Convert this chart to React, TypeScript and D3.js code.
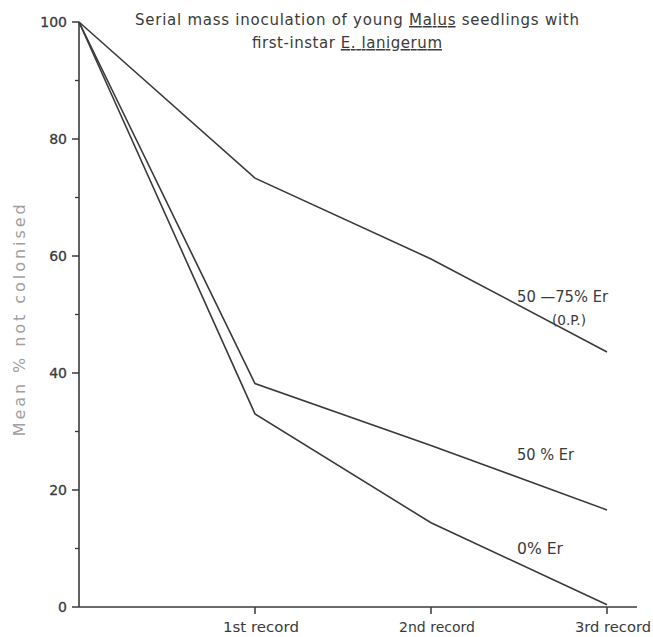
import React from "react";
import * as d3 from "d3";

const categories = ["", "1st record", "2nd record", "3rd record"];
const seriesNames = ["50 —75% Er", "50 % Er", "0% Er"];
const series5075 = [100, 73.3, 59.5, 43.6];
const series50 = [100, 38.2, 27.6, 16.6];
const series0 = [100, 33.0, 14.4, 0.4];
const yMajorTicks = [0, 20, 40, 60, 80, 100];
const yMinorTicks = [10, 30, 50, 70, 90];

const W = 653;
const H = 637;
const FONT = "'DejaVu Sans', sans-serif";
const INK = "#3a3a3a";

export default function App() {
  const x = d3.scaleLinear().domain([0, 3]).range([79, 607]);
  const y = d3.scaleLinear().domain([0, 100]).range([607, 22]);
  const line = d3
    .line<number>()
    .x((_, i) => x(i))
    .y((d) => y(d));
  const allSeries = [series5075, series50, series0];

  return (
    <svg width={W} height={H} style={{ position: "absolute", left: 0, top: 0 }} fontFamily={FONT}>
      <rect width={W} height={H} fill="#fff" />
      {/* axes */}
      <line x1={x(0)} x2={x(0)} y1={y(100)} y2={y(0)} stroke={INK} strokeWidth={1.6} />
      <line x1={x(0)} x2={637} y1={y(0)} y2={y(0)} stroke={INK} strokeWidth={1.6} />
      {yMajorTicks.map((t) => (
        <g key={"M" + t}>
          <line x1={x(0) - 7} x2={x(0)} y1={y(t)} y2={y(t)} stroke={INK} strokeWidth={1.5} />
          <text x={x(0) - 12} y={y(t)} dy="0.35em" textAnchor="end" fontSize={14} fill={INK} stroke={INK} strokeWidth={0.3}>
            {t}
          </text>
        </g>
      ))}
      {yMinorTicks.map((t) => (
        <line key={"m" + t} x1={x(0) - 4} x2={x(0)} y1={y(t)} y2={y(t)} stroke={INK} strokeWidth={1.3} />
      ))}
      {categories.map((c, i) =>
        i === 0 ? null : (
          <g key={c}>
            <line x1={x(i)} x2={x(i)} y1={y(0)} y2={y(0) + 7} stroke={INK} strokeWidth={1.5} />
            <text x={x(i) + 6} y={y(0) + 25} textAnchor="middle" fontSize={14} fill={INK} textLength={76} lengthAdjust="spacingAndGlyphs">
              {c}
            </text>
          </g>
        )
      )}
      {/* y label */}
      <text
        transform={`translate(25,${y(49)}) rotate(-90)`}
        textAnchor="middle"
        fontSize={16}
        fill="#a0a0a0"
        textLength={232}
        lengthAdjust="spacing"
      >
        Mean % not colonised
      </text>
      {/* lines */}
      {allSeries.map((s, k) => (
        <path key={k} d={line(s) || ""} fill="none" stroke={INK} strokeWidth={1.6} />
      ))}
      {/* series labels */}
      <text x={517} y={302} fontSize={15} fill={INK} textLength={91} lengthAdjust="spacingAndGlyphs">
        {seriesNames[0]}
      </text>
      <text x={552} y={325} fontSize={14} fill={INK} textLength={34} lengthAdjust="spacingAndGlyphs">
        (0.P.)
      </text>
      <text x={517} y={460} fontSize={15} fill={INK} textLength={57} lengthAdjust="spacingAndGlyphs">
        {seriesNames[1]}
      </text>
      <text x={517} y={554} fontSize={15} fill={INK} textLength={46} lengthAdjust="spacingAndGlyphs">
        {seriesNames[2]}
      </text>
      {/* title */}
      <text x={135} y={25} fontSize={15} fill={INK} textLength={444} lengthAdjust="spacing">
        Serial mass inoculation of young{" "}
        <tspan textDecoration="underline">Malus</tspan> seedlings with
      </text>
      <text x={252} y={48} fontSize={15} fill={INK} textLength={190} lengthAdjust="spacing">
        first-instar <tspan textDecoration="underline">E. lanigerum</tspan>
      </text>
    </svg>
  );
}
